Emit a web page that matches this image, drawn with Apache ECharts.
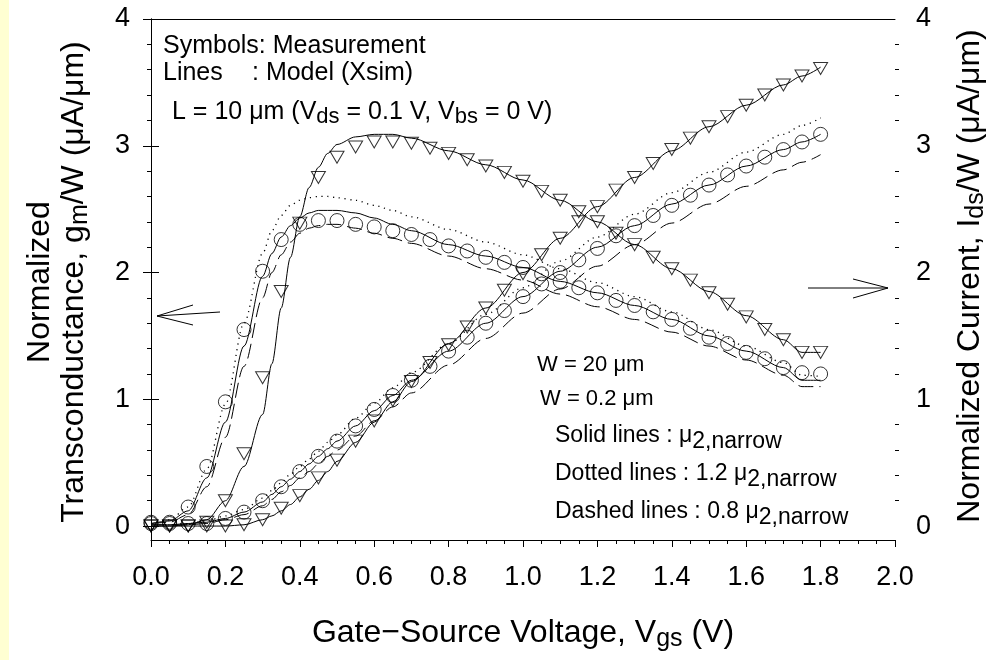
<!DOCTYPE html>
<html>
<head>
<meta charset="utf-8">
<script src="https://cdn.jsdelivr.net/npm/echarts@6/dist/echarts.min.js"></script>
<style>
html, body { margin: 0; padding: 0; background: #fff; }
#chart { width: 996px; height: 660px; }
</style>
</head>
<body>
<div id="chart"></div>
<script>
// Gate bias of the measured points (V)
const vgsMeas = [0, 0.05, 0.1, 0.15, 0.2, 0.25, 0.3, 0.35, 0.4, 0.45, 0.5, 0.55, 0.6, 0.65, 0.7, 0.75, 0.8, 0.85, 0.9, 0.95,
  1.0, 1.05, 1.1, 1.15, 1.2, 1.25, 1.3, 1.35, 1.4, 1.45, 1.5, 1.55, 1.6, 1.65, 1.7, 1.75, 1.8];

// Measured gm/W (uA/um): circles and triangles
const gmCircle = [0.03, 0.03, 0.15, 0.47, 0.98, 1.55, 2.01, 2.26, 2.38, 2.41, 2.41, 2.38, 2.36, 2.33, 2.30, 2.26, 2.21, 2.17, 2.12, 2.08,
  2.04, 1.99, 1.93, 1.88, 1.84, 1.78, 1.74, 1.69, 1.63, 1.56, 1.49, 1.44, 1.37, 1.32, 1.25, 1.21, 1.20];
const gmTriangle = [0.0, 0.0, 0.0, 0.03, 0.20, 0.57, 1.17, 1.85, 2.39, 2.75, 2.91, 2.99, 3.03, 3.03, 3.02, 2.98, 2.94, 2.89, 2.84, 2.79,
  2.72, 2.64, 2.57, 2.48, 2.40, 2.31, 2.22, 2.12, 2.03, 1.94, 1.84, 1.75, 1.65, 1.55, 1.47, 1.37, 1.37];

// Measured Ids/W (uA/um): circles and triangles
const idsCircle = [0.02, 0.02, 0.02, 0.02, 0.06, 0.11, 0.20, 0.31, 0.43, 0.55, 0.67, 0.79, 0.92, 1.03, 1.15, 1.26, 1.38, 1.49, 1.60, 1.70,
  1.81, 1.91, 2.00, 2.10, 2.19, 2.29, 2.37, 2.45, 2.53, 2.61, 2.69, 2.77, 2.84, 2.91, 2.97, 3.03, 3.09];
const idsTriangle = [0.0, 0.0, 0.0, 0.0, 0.0, 0.01, 0.05, 0.14, 0.24, 0.38, 0.52, 0.67, 0.83, 0.99, 1.14, 1.29, 1.43, 1.57, 1.72, 1.86,
  1.99, 2.14, 2.27, 2.40, 2.52, 2.65, 2.75, 2.86, 2.97, 3.06, 3.15, 3.23, 3.32, 3.40, 3.48, 3.55, 3.61];

// Gate bias of the simulated curves (V)
const vgsModel = [0, 0.05, 0.1, 0.15, 0.2, 0.25, 0.3, 0.325, 0.35, 0.375, 0.4, 0.425, 0.45, 0.475, 0.5, 0.55, 0.6, 0.65, 0.7,
  0.8, 0.9, 1.0, 1.1, 1.2, 1.3, 1.4, 1.5, 1.6, 1.7, 1.75, 1.8];

// Simulated gm/W: solid = mu2,narrow, dotted = 1.2 mu2,narrow, dashed = 0.8 mu2,narrow
const gmCircleSolid = [0.02, 0.04, 0.12, 0.38, 0.82, 1.42, 1.97, 2.15, 2.28, 2.37, 2.43, 2.47, 2.49, 2.49, 2.49, 2.47, 2.43, 2.38, 2.33,
  2.22, 2.13, 2.04, 1.93, 1.84, 1.74, 1.63, 1.50, 1.38, 1.25, 1.15, 1.15];
const gmCircleDotted = [0.02, 0.05, 0.15, 0.45, 0.96, 1.60, 2.15, 2.33, 2.45, 2.53, 2.57, 2.59, 2.60, 2.60, 2.59, 2.57, 2.53, 2.49, 2.44,
  2.34, 2.24, 2.14, 2.03, 1.92, 1.81, 1.69, 1.55, 1.42, 1.29, 1.19, 1.18];
const gmCircleDashed = [0.02, 0.03, 0.09, 0.31, 0.70, 1.26, 1.80, 2.00, 2.14, 2.24, 2.31, 2.35, 2.37, 2.38, 2.38, 2.35, 2.31, 2.27, 2.23,
  2.13, 2.03, 1.94, 1.83, 1.73, 1.63, 1.53, 1.42, 1.31, 1.19, 1.10, 1.10];
const gmTriangleSolid = [0.0, 0.0, 0.01, 0.05, 0.20, 0.47, 0.88, 1.28, 1.72, 2.12, 2.44, 2.67, 2.83, 2.94, 3.01, 3.07, 3.09, 3.09, 3.06,
  2.96, 2.85, 2.73, 2.57, 2.40, 2.22, 2.03, 1.85, 1.66, 1.47, 1.37, 1.37];

// Simulated Ids/W
const idsCircleSolid = [0.01, 0.01, 0.02, 0.03, 0.06, 0.11, 0.19, 0.25, 0.31, 0.37, 0.43, 0.49, 0.55, 0.61, 0.67, 0.79, 0.91, 1.03, 1.15,
  1.38, 1.60, 1.81, 2.01, 2.20, 2.37, 2.54, 2.69, 2.84, 2.97, 3.03, 3.09];
const idsCircleDotted = [0.01, 0.01, 0.02, 0.04, 0.08, 0.13, 0.22, 0.28, 0.34, 0.41, 0.47, 0.53, 0.59, 0.66, 0.72, 0.85, 0.97, 1.09, 1.21,
  1.44, 1.67, 1.88, 2.09, 2.28, 2.46, 2.63, 2.79, 2.95, 3.09, 3.16, 3.22];
const idsCircleDashed = [0.01, 0.01, 0.01, 0.02, 0.05, 0.09, 0.16, 0.21, 0.27, 0.32, 0.38, 0.43, 0.49, 0.55, 0.60, 0.71, 0.83, 0.94, 1.05,
  1.27, 1.48, 1.68, 1.87, 2.05, 2.22, 2.39, 2.54, 2.68, 2.81, 2.87, 2.93];
const idsTriangleSolid = [0.0, 0.0, 0.0, 0.0, 0.0, 0.01, 0.05, 0.08, 0.12, 0.17, 0.23, 0.29, 0.36, 0.43, 0.51, 0.66, 0.82, 0.98, 1.14,
  1.44, 1.72, 2.00, 2.27, 2.52, 2.75, 2.96, 3.15, 3.32, 3.48, 3.55, 3.62];

// Axis tick values
const yMajor = [0, 1, 2, 3, 4];
const yMinor = [0.2, 0.4, 0.6, 0.8, 1.2, 1.4, 1.6, 1.8, 2.2, 2.4, 2.6, 2.8, 3.2, 3.4, 3.6, 3.8];

const FONT = 'Liberation Sans';
const pairs = (xs, ys) => xs.map((x, i) => [x, ys[i]]);

const chart = echarts.init(document.getElementById('chart'), null, { renderer: 'canvas' });

function modelLine(values, yIndex, kind) {
  const type = kind === 'dotted' ? [1.2, 4.6] : kind === 'dashed' ? [15, 6] : 'solid';
  return {
    type: 'line',
    yAxisIndex: yIndex,
    data: pairs(vgsModel, values),
    showSymbol: false,
    symbol: 'none',
    smooth: 0.3,
    smoothMonotone: 'x',
    lineStyle: { color: '#000', width: kind === 'dotted' ? 1.3 : 1, type: type },
    z: 2,
    silent: true
  };
}

const circleMark = { symbol: 'circle', symbolSize: 14 };
const triangleMark = { symbol: 'path://M0,0 L14,0 L7,12 Z', symbolSize: [14, 12] };

function measured(values, yIndex, mark) {
  return Object.assign({
    type: 'scatter',
    yAxisIndex: yIndex,
    data: pairs(vgsMeas, values),
    itemStyle: { color: 'rgba(0,0,0,0)', borderColor: '#000', borderWidth: 1 },
    z: 3,
    silent: true
  }, mark);
}

const yBase = {
  type: 'value', min: -0.11, max: 4,
  splitLine: { show: false }
};

function majorY(position) {
  return Object.assign({}, yBase, {
    position: position,
    axisLine: { show: true, lineStyle: { color: '#000', width: 1 } },
    axisTick: { show: true, customValues: yMajor, length: 8, lineStyle: { color: '#000' } },
    axisLabel: { show: true, customValues: yMajor, margin: 21, color: '#000', fontSize: 27, fontFamily: FONT }
  });
}
function minorY(position) {
  return Object.assign({}, yBase, {
    position: position,
    axisLine: { show: false },
    axisTick: { show: true, customValues: yMinor, length: 4, lineStyle: { color: '#000' } },
    axisLabel: { show: false }
  });
}

const sub = (size, pad) => ({ fontSize: size, fontFamily: FONT, padding: [pad, 0, 0, 0] });

const option = {
  animation: false,
  backgroundColor: '#fff',
  grid: { left: 151, right: 101, top: 19, bottom: 120, containLabel: false },
  xAxis: [{
    type: 'value', min: 0, max: 2, interval: 0.2, position: 'bottom',
    axisLine: { show: true, onZero: false, lineStyle: { color: '#000', width: 1 } },
    axisTick: { show: true, length: 7, lineStyle: { color: '#000' } },
    minorTick: { show: true, splitNumber: 4, length: 4, lineStyle: { color: '#000' } },
    axisLabel: { margin: 24, color: '#000', fontSize: 27, fontFamily: FONT, formatter: v => v.toFixed(1) },
    splitLine: { show: false }
  }, {
    type: 'value', min: 0, max: 2, position: 'top',
    axisLine: { show: true, onZero: false, lineStyle: { color: '#000', width: 1 } },
    axisTick: { show: false }, axisLabel: { show: false }, splitLine: { show: false }
  }],
  yAxis: [majorY('left'), majorY('right'), minorY('left'), minorY('right')],
  series: [
    modelLine(gmCircleSolid, 0, 'solid'),
    modelLine(gmCircleDotted, 0, 'dotted'),
    modelLine(gmCircleDashed, 0, 'dashed'),
    modelLine(gmTriangleSolid, 0, 'solid'),
    modelLine(idsCircleSolid, 1, 'solid'),
    modelLine(idsCircleDotted, 1, 'dotted'),
    modelLine(idsCircleDashed, 1, 'dashed'),
    modelLine(idsTriangleSolid, 1, 'solid'),
    measured(gmCircle, 0, circleMark),
    measured(gmTriangle, 0, triangleMark),
    measured(idsCircle, 1, circleMark),
    measured(idsTriangle, 1, triangleMark)
  ],
  graphic: [
    // pale strip along the left edge
    { type: 'rect', shape: { x: 0, y: 0, width: 9, height: 660 }, style: { fill: '#ffffd2' }, silent: true },
    // axis titles
    { type: 'text', x: 40, y: 282, rotation: Math.PI / 2,
      style: { text: 'Normalized', fontSize: 32, fontFamily: FONT, fill: '#000', align: 'center', verticalAlign: 'middle' } },
    { type: 'text', x: 74, y: 282, rotation: Math.PI / 2,
      style: { text: 'Transconductance, g{s|m}/W (\u03bcA/\u03bcm)', fontSize: 32, fontFamily: FONT, fill: '#000',
        align: 'center', verticalAlign: 'middle', rich: { s: sub(25, 12) } } },
    { type: 'text', x: 970, y: 276, rotation: Math.PI / 2,
      style: { text: 'Normalized Current, I{s|ds}/W (\u03bcA/\u03bcm)', fontSize: 32, fontFamily: FONT, fill: '#000',
        align: 'center', verticalAlign: 'middle', rich: { s: sub(25, 12) } } },
    { type: 'text', x: 523, y: 633,
      style: { text: 'Gate\u2212Source Voltage, V{s|gs} (V)', fontSize: 32, fontFamily: FONT, fill: '#000',
        align: 'center', verticalAlign: 'middle', rich: { s: sub(25, 12) } } },
    // legend notes
    { type: 'text', x: 163, y: 46,
      style: { text: 'Symbols: Measurement', fontSize: 25, fontFamily: FONT, fill: '#000', verticalAlign: 'middle' } },
    { type: 'text', x: 163, y: 73,
      style: { text: 'Lines', fontSize: 25, fontFamily: FONT, fill: '#000', verticalAlign: 'middle' } },
    { type: 'text', x: 252, y: 73,
      style: { text: ': Model (Xsim)', fontSize: 25, fontFamily: FONT, fill: '#000', verticalAlign: 'middle' } },
    { type: 'text', x: 172, y: 112,
      style: { text: 'L = 10 \u03bcm (V{s|ds} = 0.1 V, V{s|bs} = 0 V)', fontSize: 25, fontFamily: FONT, fill: '#000',
        verticalAlign: 'middle', rich: { s: sub(22, 10) } } },
    { type: 'text', x: 537, y: 365,
      style: { text: 'W = 20 \u03bcm', fontSize: 22, fontFamily: FONT, fill: '#000', verticalAlign: 'middle' } },
    { type: 'text', x: 540, y: 399,
      style: { text: 'W = 0.2 \u03bcm', fontSize: 22, fontFamily: FONT, fill: '#000', verticalAlign: 'middle' } },
    { type: 'text', x: 555, y: 436,
      style: { text: 'Solid lines : \u03bc{s|2,narrow}', fontSize: 23, fontFamily: FONT, fill: '#000',
        verticalAlign: 'middle', rich: { s: sub(23, 11) } } },
    { type: 'text', x: 555, y: 474,
      style: { text: 'Dotted lines : 1.2 \u03bc{s|2,narrow}', fontSize: 23, fontFamily: FONT, fill: '#000',
        verticalAlign: 'middle', rich: { s: sub(23, 11) } } },
    { type: 'text', x: 555, y: 512,
      style: { text: 'Dashed lines : 0.8 \u03bc{s|2,narrow}', fontSize: 23, fontFamily: FONT, fill: '#000',
        verticalAlign: 'middle', rich: { s: sub(23, 11) } } },
    // arrows pointing to the axis each family belongs to
    { type: 'polyline', shape: { points: [[220, 312], [157, 316]] }, style: { stroke: '#000', lineWidth: 1, fill: null } },
    { type: 'polyline', shape: { points: [[193, 305], [157, 316], [193, 325]] }, style: { stroke: '#000', lineWidth: 1, fill: null } },
    { type: 'polyline', shape: { points: [[808, 288], [888, 288]] }, style: { stroke: '#000', lineWidth: 1, fill: null } },
    { type: 'polyline', shape: { points: [[853, 279], [888, 288], [853, 298]] }, style: { stroke: '#000', lineWidth: 1, fill: null } }
  ]
};

chart.setOption(option);
</script>
</body>
</html>
